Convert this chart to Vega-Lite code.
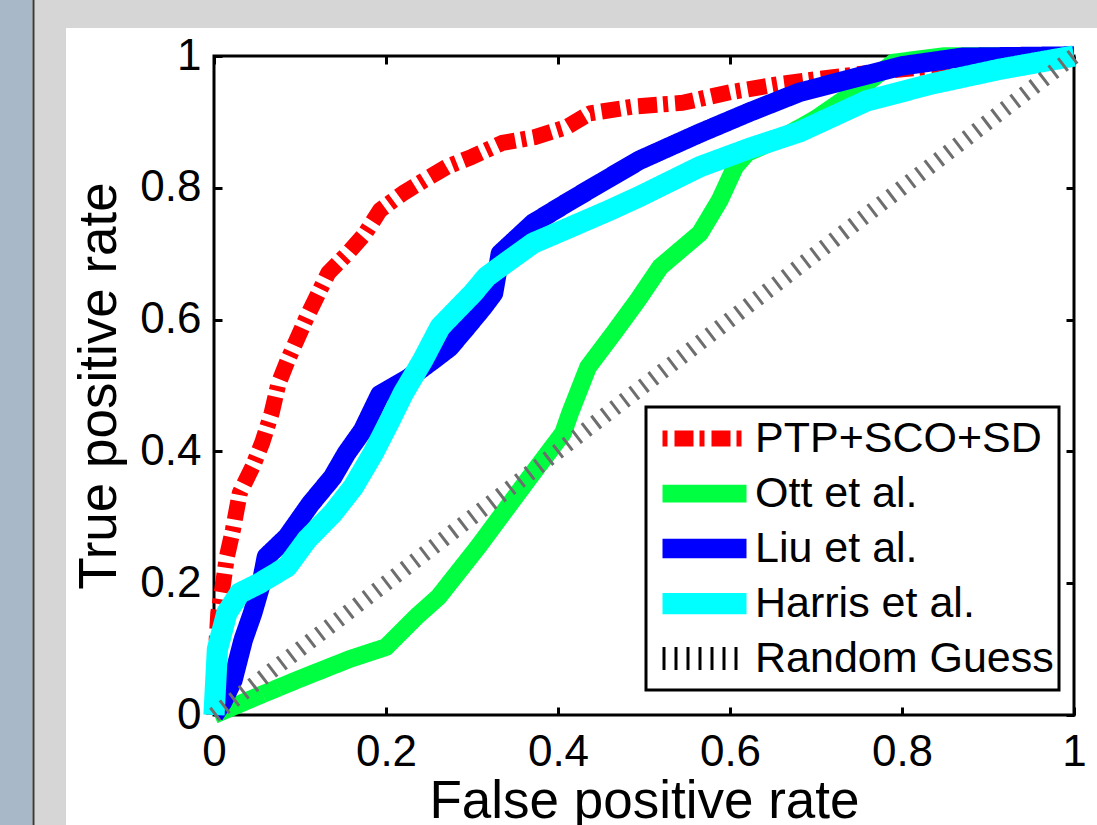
{
  "$schema": "https://vega.github.io/schema/vega-lite/v6.json",
  "width": 860,
  "height": 659,
  "autosize": {"type": "none"},
  "padding": {"left": 214, "top": 56, "right": 23, "bottom": 110},
  "background": "#ffffff",
  "config": {
    "view": {"stroke": "#000000", "strokeWidth": 3},
    "font": "Liberation Sans",
    "axis": {"grid": false, "domain": false, "tickColor": "#000000", "tickWidth": 3, "tickSize": -8, "labelColor": "#000000", "titleColor": "#000000", "labelFont": "Liberation Sans", "titleFont": "Liberation Sans", "titleFontWeight": "normal"}
  },
  "datasets": {
    "roc": [
      {"method": "PTP+SCO+SD", "fpr": 0, "tpr": 0},
      {"method": "PTP+SCO+SD", "fpr": 0.002, "tpr": 0.09},
      {"method": "PTP+SCO+SD", "fpr": 0.005, "tpr": 0.155},
      {"method": "PTP+SCO+SD", "fpr": 0.01, "tpr": 0.194},
      {"method": "PTP+SCO+SD", "fpr": 0.015, "tpr": 0.24},
      {"method": "PTP+SCO+SD", "fpr": 0.022, "tpr": 0.281},
      {"method": "PTP+SCO+SD", "fpr": 0.03, "tpr": 0.337},
      {"method": "PTP+SCO+SD", "fpr": 0.045, "tpr": 0.377},
      {"method": "PTP+SCO+SD", "fpr": 0.056, "tpr": 0.413},
      {"method": "PTP+SCO+SD", "fpr": 0.067, "tpr": 0.458},
      {"method": "PTP+SCO+SD", "fpr": 0.075, "tpr": 0.503},
      {"method": "PTP+SCO+SD", "fpr": 0.086, "tpr": 0.539},
      {"method": "PTP+SCO+SD", "fpr": 0.108, "tpr": 0.604},
      {"method": "PTP+SCO+SD", "fpr": 0.133, "tpr": 0.671},
      {"method": "PTP+SCO+SD", "fpr": 0.155, "tpr": 0.7},
      {"method": "PTP+SCO+SD", "fpr": 0.176, "tpr": 0.731},
      {"method": "PTP+SCO+SD", "fpr": 0.193, "tpr": 0.766},
      {"method": "PTP+SCO+SD", "fpr": 0.22, "tpr": 0.792},
      {"method": "PTP+SCO+SD", "fpr": 0.245, "tpr": 0.812},
      {"method": "PTP+SCO+SD", "fpr": 0.271, "tpr": 0.832},
      {"method": "PTP+SCO+SD", "fpr": 0.3, "tpr": 0.847},
      {"method": "PTP+SCO+SD", "fpr": 0.335, "tpr": 0.868},
      {"method": "PTP+SCO+SD", "fpr": 0.373, "tpr": 0.877},
      {"method": "PTP+SCO+SD", "fpr": 0.41, "tpr": 0.892},
      {"method": "PTP+SCO+SD", "fpr": 0.437, "tpr": 0.913},
      {"method": "PTP+SCO+SD", "fpr": 0.486, "tpr": 0.923},
      {"method": "PTP+SCO+SD", "fpr": 0.545, "tpr": 0.929},
      {"method": "PTP+SCO+SD", "fpr": 0.6, "tpr": 0.945},
      {"method": "PTP+SCO+SD", "fpr": 0.66, "tpr": 0.958},
      {"method": "PTP+SCO+SD", "fpr": 0.72, "tpr": 0.968},
      {"method": "PTP+SCO+SD", "fpr": 0.8, "tpr": 0.98},
      {"method": "PTP+SCO+SD", "fpr": 0.9, "tpr": 0.99},
      {"method": "PTP+SCO+SD", "fpr": 1, "tpr": 1},
      {"method": "Ott et al.", "fpr": 0, "tpr": 0},
      {"method": "Ott et al.", "fpr": 0.05, "tpr": 0.028},
      {"method": "Ott et al.", "fpr": 0.1, "tpr": 0.055},
      {"method": "Ott et al.", "fpr": 0.158, "tpr": 0.085},
      {"method": "Ott et al.", "fpr": 0.2, "tpr": 0.103},
      {"method": "Ott et al.", "fpr": 0.236, "tpr": 0.15},
      {"method": "Ott et al.", "fpr": 0.261, "tpr": 0.179},
      {"method": "Ott et al.", "fpr": 0.307, "tpr": 0.255},
      {"method": "Ott et al.", "fpr": 0.365, "tpr": 0.357},
      {"method": "Ott et al.", "fpr": 0.406, "tpr": 0.428},
      {"method": "Ott et al.", "fpr": 0.414, "tpr": 0.458},
      {"method": "Ott et al.", "fpr": 0.435, "tpr": 0.528},
      {"method": "Ott et al.", "fpr": 0.465, "tpr": 0.58},
      {"method": "Ott et al.", "fpr": 0.493, "tpr": 0.63},
      {"method": "Ott et al.", "fpr": 0.519, "tpr": 0.68},
      {"method": "Ott et al.", "fpr": 0.565, "tpr": 0.731},
      {"method": "Ott et al.", "fpr": 0.588, "tpr": 0.781},
      {"method": "Ott et al.", "fpr": 0.606, "tpr": 0.832},
      {"method": "Ott et al.", "fpr": 0.62, "tpr": 0.853},
      {"method": "Ott et al.", "fpr": 0.662, "tpr": 0.877},
      {"method": "Ott et al.", "fpr": 0.7, "tpr": 0.905},
      {"method": "Ott et al.", "fpr": 0.75, "tpr": 0.95},
      {"method": "Ott et al.", "fpr": 0.79, "tpr": 0.99},
      {"method": "Ott et al.", "fpr": 0.85, "tpr": 1},
      {"method": "Ott et al.", "fpr": 1, "tpr": 1},
      {"method": "Liu et al.", "fpr": 0, "tpr": 0},
      {"method": "Liu et al.", "fpr": 0.01, "tpr": 0.02},
      {"method": "Liu et al.", "fpr": 0.022, "tpr": 0.053},
      {"method": "Liu et al.", "fpr": 0.034, "tpr": 0.114},
      {"method": "Liu et al.", "fpr": 0.045, "tpr": 0.155},
      {"method": "Liu et al.", "fpr": 0.055, "tpr": 0.2},
      {"method": "Liu et al.", "fpr": 0.061, "tpr": 0.24},
      {"method": "Liu et al.", "fpr": 0.085, "tpr": 0.27},
      {"method": "Liu et al.", "fpr": 0.112, "tpr": 0.32},
      {"method": "Liu et al.", "fpr": 0.138, "tpr": 0.361},
      {"method": "Liu et al.", "fpr": 0.154, "tpr": 0.397},
      {"method": "Liu et al.", "fpr": 0.173, "tpr": 0.432},
      {"method": "Liu et al.", "fpr": 0.193, "tpr": 0.486},
      {"method": "Liu et al.", "fpr": 0.225, "tpr": 0.51},
      {"method": "Liu et al.", "fpr": 0.255, "tpr": 0.539},
      {"method": "Liu et al.", "fpr": 0.274, "tpr": 0.558},
      {"method": "Liu et al.", "fpr": 0.294, "tpr": 0.589},
      {"method": "Liu et al.", "fpr": 0.313, "tpr": 0.619},
      {"method": "Liu et al.", "fpr": 0.325, "tpr": 0.64},
      {"method": "Liu et al.", "fpr": 0.333, "tpr": 0.7},
      {"method": "Liu et al.", "fpr": 0.371, "tpr": 0.746},
      {"method": "Liu et al.", "fpr": 0.41, "tpr": 0.777},
      {"method": "Liu et al.", "fpr": 0.449, "tpr": 0.807},
      {"method": "Liu et al.", "fpr": 0.495, "tpr": 0.842},
      {"method": "Liu et al.", "fpr": 0.565, "tpr": 0.883},
      {"method": "Liu et al.", "fpr": 0.623, "tpr": 0.915},
      {"method": "Liu et al.", "fpr": 0.681, "tpr": 0.945},
      {"method": "Liu et al.", "fpr": 0.74, "tpr": 0.965},
      {"method": "Liu et al.", "fpr": 0.8, "tpr": 0.985},
      {"method": "Liu et al.", "fpr": 0.87, "tpr": 0.998},
      {"method": "Liu et al.", "fpr": 1, "tpr": 1},
      {"method": "Harris et al.", "fpr": 0, "tpr": 0},
      {"method": "Harris et al.", "fpr": 0.002, "tpr": 0.05},
      {"method": "Harris et al.", "fpr": 0.004, "tpr": 0.1},
      {"method": "Harris et al.", "fpr": 0.015, "tpr": 0.155},
      {"method": "Harris et al.", "fpr": 0.03, "tpr": 0.185},
      {"method": "Harris et al.", "fpr": 0.053, "tpr": 0.2},
      {"method": "Harris et al.", "fpr": 0.085, "tpr": 0.225},
      {"method": "Harris et al.", "fpr": 0.108, "tpr": 0.266},
      {"method": "Harris et al.", "fpr": 0.138, "tpr": 0.306},
      {"method": "Harris et al.", "fpr": 0.162, "tpr": 0.346},
      {"method": "Harris et al.", "fpr": 0.185, "tpr": 0.397},
      {"method": "Harris et al.", "fpr": 0.205, "tpr": 0.448},
      {"method": "Harris et al.", "fpr": 0.22, "tpr": 0.488},
      {"method": "Harris et al.", "fpr": 0.243, "tpr": 0.539},
      {"method": "Harris et al.", "fpr": 0.263, "tpr": 0.589},
      {"method": "Harris et al.", "fpr": 0.301, "tpr": 0.64},
      {"method": "Harris et al.", "fpr": 0.317, "tpr": 0.665},
      {"method": "Harris et al.", "fpr": 0.338, "tpr": 0.685},
      {"method": "Harris et al.", "fpr": 0.371, "tpr": 0.716},
      {"method": "Harris et al.", "fpr": 0.405, "tpr": 0.735},
      {"method": "Harris et al.", "fpr": 0.46, "tpr": 0.766},
      {"method": "Harris et al.", "fpr": 0.495, "tpr": 0.787},
      {"method": "Harris et al.", "fpr": 0.565, "tpr": 0.832},
      {"method": "Harris et al.", "fpr": 0.623, "tpr": 0.86},
      {"method": "Harris et al.", "fpr": 0.681, "tpr": 0.885},
      {"method": "Harris et al.", "fpr": 0.759, "tpr": 0.932},
      {"method": "Harris et al.", "fpr": 0.836, "tpr": 0.958},
      {"method": "Harris et al.", "fpr": 0.914, "tpr": 0.98},
      {"method": "Harris et al.", "fpr": 1, "tpr": 1}
    ],
    "diag": [
      {"method": "Random Guess", "fpr": 0, "tpr": 0},
      {"method": "Random Guess", "fpr": 1, "tpr": 1}
    ]
  },
  "layer": [
    {
      "data": {"values": [{}]},
      "mark": {"type": "rect", "color": "#d6d6d6"},
      "encoding": {
        "x": {"datum": -0.27, "type": "quantitative", "axis": null},
        "x2": {"datum": -0.1721},
        "y": {"datum": 1.1, "type": "quantitative", "axis": null},
        "y2": {"datum": -0.19}
      }
    },
    {
      "data": {"values": [{}]},
      "mark": {"type": "rect", "color": "#d6d6d6"},
      "encoding": {
        "x": {"datum": -0.27, "type": "quantitative", "axis": null},
        "x2": {"datum": 1.04},
        "y": {"datum": 1.1, "type": "quantitative", "axis": null},
        "y2": {"datum": 1.0425}
      }
    },
    {
      "data": {"values": [{}]},
      "mark": {"type": "rect", "color": "#a8b8c8"},
      "encoding": {
        "x": {"datum": -0.27, "type": "quantitative", "axis": null},
        "x2": {"datum": -0.2116},
        "y": {"datum": 1.1, "type": "quantitative", "axis": null},
        "y2": {"datum": -0.19}
      }
    },
    {
      "data": {"values": [{}]},
      "mark": {"type": "rule", "color": "#3a3a3a", "strokeWidth": 2},
      "encoding": {
        "x": {"datum": -0.2099, "type": "quantitative", "axis": null},
        "y": {"datum": 1.1, "type": "quantitative", "axis": null},
        "y2": {"datum": -0.19}
      }
    },
    {
      "data": {"name": "roc"},
      "mark": {"type": "line", "strokeCap": "butt", "strokeJoin": "round"},
      "encoding": {
        "x": {
          "field": "fpr", "type": "quantitative",
          "scale": {"domain": [0, 1], "nice": false, "zero": false},
          "axis": {"orient": "bottom", "values": [0, 0.2, 0.4, 0.6, 0.8, 1], "format": "~g", "labelFontSize": 44, "labelPadding": 23, "labelFlush": false, "labelOverlap": false, "title": "False positive rate", "titleFontSize": 53, "titleY": 60, "titleBaseline": "top"}
        },
        "y": {
          "field": "tpr", "type": "quantitative",
          "scale": {"domain": [0, 1], "nice": false, "zero": false},
          "axis": {"orient": "left", "values": [0, 0.2, 0.4, 0.6, 0.8, 1], "format": "~g", "labelFontSize": 44, "labelPadding": 21, "labelFlush": false, "labelOverlap": false, "title": "True positive rate", "titleFontSize": 53, "titleX": -88, "titleBaseline": "bottom", "titleAngle": -90}
        },
        "color": {
          "field": "method", "type": "nominal",
          "scale": {"domain": ["PTP+SCO+SD", "Ott et al.", "Liu et al.", "Harris et al.", "Random Guess"], "range": ["#ff0000", "#00ff40", "#0000ff", "#00ffff", "#000000"]},
          "legend": {
            "orient": "none", "legendX": 432, "legendY": 351, "title": null,
            "fillColor": "#ffffff", "strokeColor": "#000000", "padding": 5,
            "symbolType": "stroke", "symbolSize": 7056, "symbolStrokeWidth": 12,
            "clipHeight": 53,
            "labelFontSize": 43, "labelFont": "Liberation Sans", "labelColor": "#000000", "labelOffset": -3, "labelLimit": 0,
            "rowPadding": 2,
            "encode": {
              "legend": {"update": {"strokeWidth": {"value": 3}}},
              "symbols": {"update": {"strokeWidth": {"signal": "datum.value === 'Random Guess' ? 20 : datum.value === 'PTP+SCO+SD' ? 15 : 11"}}}
            }
          }
        },
        "strokeDash": {
          "field": "method", "type": "nominal",
          "scale": {"domain": ["PTP+SCO+SD", "Ott et al.", "Liu et al.", "Harris et al.", "Random Guess"], "range": [[5, 7, 19, 6], [1, 0], [1, 0], [1, 0], [3, 9]]}
        },
        "strokeWidth": {
          "field": "method", "type": "ordinal",
          "scale": {"domain": ["PTP+SCO+SD", "Ott et al.", "Liu et al.", "Harris et al.", "Random Guess"], "range": [16, 23, 22, 25, 16]},
          "legend": null
        }
      }
    },
    {
      "data": {"name": "diag"},
      "mark": {"type": "line", "strokeCap": "butt", "stroke": "#6e6e6e", "strokeDash": [3, 9], "strokeWidth": 16},
      "encoding": {
        "x": {
          "field": "fpr", "type": "quantitative",
          "scale": {"domain": [0, 1], "nice": false, "zero": false},
          "axis": {"orient": "top", "values": [0, 0.2, 0.4, 0.6, 0.8, 1], "labels": false, "title": null}
        },
        "y": {
          "field": "tpr", "type": "quantitative",
          "scale": {"domain": [0, 1], "nice": false, "zero": false},
          "axis": {"orient": "right", "values": [0, 0.2, 0.4, 0.6, 0.8, 1], "labels": false, "title": null}
        },
        "detail": {"field": "method", "type": "nominal"}
      }
    }
  ],
  "resolve": {"axis": {"x": "independent", "y": "independent"}}
}
